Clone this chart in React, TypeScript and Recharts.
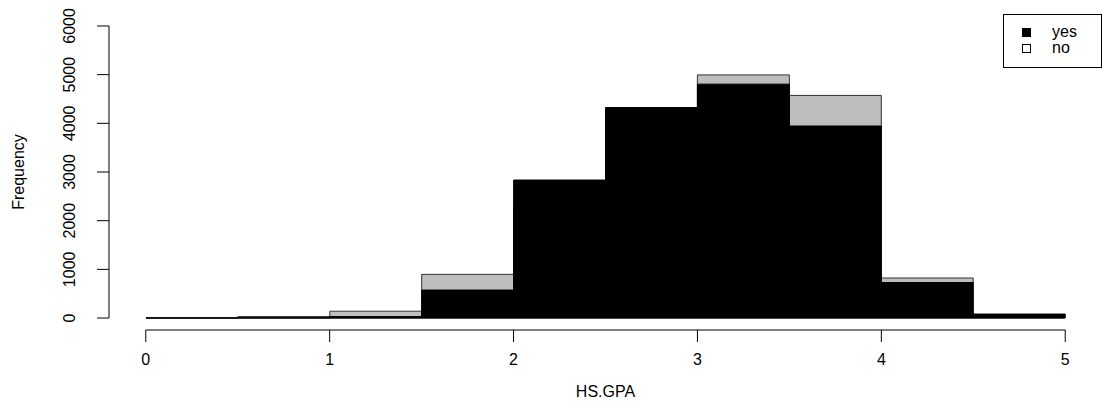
import { BarChart, Bar, XAxis, YAxis, ReferenceLine } from 'recharts';

const BINS = ['0-0.5', '0.5-1', '1-1.5', '1.5-2', '2-2.5', '2.5-3', '3-3.5', '3.5-4', '4-4.5', '4.5-5'];
const BIN_MIDS = [0.25, 0.75, 1.25, 1.75, 2.25, 2.75, 3.25, 3.75, 4.25, 4.75];
const YES_COUNTS = [3, 5, 30, 575, 2835, 4325, 4805, 3945, 730, 82];
const NO_COUNTS = [2, 30, 140, 897, 2300, 3900, 4995, 4573, 822, 70];
const X_TICKS = [0, 1, 2, 3, 4, 5];
const Y_TICKS = [0, 1000, 2000, 3000, 4000, 5000, 6000];

const FONT = '"Liberation Sans", Arial, Helvetica, sans-serif';
const FS = 16;
const GRAY = '#bebebe';
const AXIS_Y = 330; // R draws the x axis below the plot's zero line

const data = BINS.map((bin, i) => ({ bin, mid: BIN_MIDS[i], yes: YES_COUNTS[i], no: NO_COUNTS[i] }));

function XTick({ x, payload }: any) {
  if (!X_TICKS.includes(payload.value)) return null;
  return (
    <g>
      <line x1={x} x2={x} y1={AXIS_Y} y2={AXIS_Y + 12} stroke="#000" />
      <text x={x} y={AXIS_Y + 35} textAnchor="middle" fontSize={FS} fontFamily={FONT} fill="#000">
        {payload.value}
      </text>
    </g>
  );
}

function YTick({ x, y, payload }: any) {
  const tx = x - 20;
  return (
    <text x={tx} y={y} transform={`rotate(-90, ${tx}, ${y})`} textAnchor="middle" fontSize={FS} fontFamily={FONT} fill="#000">
      {payload.value}
    </text>
  );
}

function Legend() {
  return (
    <div style={{ position: 'absolute', left: 1003, top: 14, width: 99, height: 54, border: '1px solid #000', boxSizing: 'border-box', fontFamily: FONT, fontSize: FS, background: '#fff' }}>
      {[{ label: 'yes', fill: '#000' }, { label: 'no', fill: '#fff' }].map((d, i) => (
        <div key={d.label} style={{ position: 'absolute', left: 18, top: 9 + i * 16, height: 16, display: 'flex', alignItems: 'center' }}>
          <span style={{ display: 'inline-block', width: 7, height: 7, border: '1px solid #000', background: d.fill }} />
          <span style={{ marginLeft: 21, lineHeight: '16px' }}>{d.label}</span>
        </div>
      ))}
    </div>
  );
}

export default function App() {
  return (
    <div style={{ position: 'absolute', left: 0, top: 0, width: 1105, height: 412, background: '#fff' }}>
      <BarChart
        width={1105}
        height={412}
        data={data}
        margin={{ top: 14, right: 3, bottom: 42, left: 69 }}
        barCategoryGap={0}
        barGap={0}
      >
        <XAxis
          xAxisId="num"
          dataKey="mid"
          type="number"
          domain={[-0.2, 5.2]}
          ticks={X_TICKS}
          allowDataOverflow
          axisLine={false}
          tickLine={false}
          height={40}
          tick={<XTick />}
          label={{
            content: () => (
              <text x={605.5} y={397} textAnchor="middle" fontSize={FS} fontFamily={FONT} fill="#000">HS.GPA</text>
            ),
          }}
        />
        <XAxis xAxisId="no" dataKey="bin" hide height={0} padding={{ left: 37, right: 37 }} />
        <XAxis xAxisId="yes" dataKey="bin" hide height={0} padding={{ left: 37, right: 37 }} />
        <YAxis
          domain={[-246, 6246]}
          ticks={Y_TICKS}
          allowDataOverflow
          width={40}
          axisLine={false}
          tickSize={12}
          tickLine={{ stroke: '#000' }}
          tick={<YTick />}
          label={{
            content: () => (
              <text x={24} y={172} transform="rotate(-90, 24, 172)" textAnchor="middle" fontSize={FS} fontFamily={FONT} fill="#000">Frequency</text>
            ),
          }}
        />
        <Bar xAxisId="no" dataKey="no" fill={GRAY} stroke="#333" strokeWidth={1} isAnimationActive={false} />
        <Bar xAxisId="yes" dataKey="yes" fill="#000" stroke="#000" strokeWidth={1} isAnimationActive={false} />
        <ReferenceLine xAxisId="num" segment={[{ x: -0.2, y: 0 }, { x: -0.2, y: 6000 }]} stroke="#000" ifOverflow="visible" />
        <ReferenceLine xAxisId="num" segment={[{ x: 0, y: -246 }, { x: 5, y: -246 }]} stroke="#000" ifOverflow="visible" />
      </BarChart>
      <Legend />
    </div>
  );
}
